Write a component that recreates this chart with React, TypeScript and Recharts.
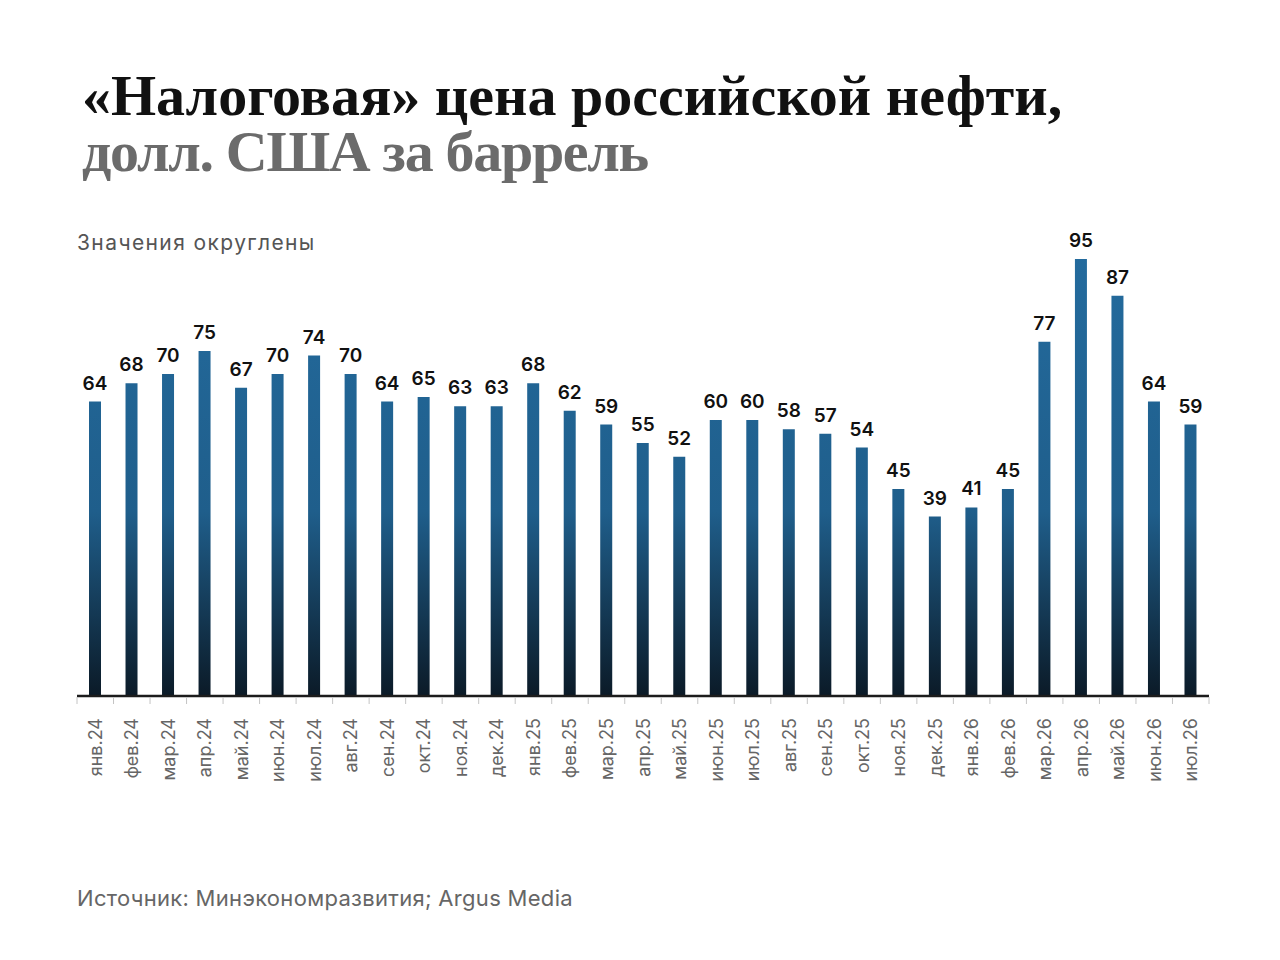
import React from 'react';
import { BarChart, Bar, XAxis, YAxis, LabelList } from 'recharts';

const months = [
  'янв.24', 'фев.24', 'мар.24', 'апр.24', 'май.24', 'июн.24', 'июл.24', 'авг.24',
  'сен.24', 'окт.24', 'ноя.24', 'дек.24', 'янв.25', 'фев.25', 'мар.25', 'апр.25',
  'май.25', 'июн.25', 'июл.25', 'авг.25', 'сен.25', 'окт.25', 'ноя.25', 'дек.25',
  'янв.26', 'фев.26', 'мар.26', 'апр.26', 'май.26', 'июн.26', 'июл.26',
];
const prices = [
  64, 68, 70, 75, 67, 70, 74, 70,
  64, 65, 63, 63, 68, 62, 59, 55,
  52, 60, 60, 58, 57, 54, 45, 39,
  41, 45, 77, 95, 87, 64, 59,
];

const data = months.map((m, i) => ({ month: m, value: prices[i] }));

const W = 1280;
const H = 960;
const M = { top: 236, right: 71, left: 77, bottom: 164 };
const XH = 100;
const STEP = (W - M.left - M.right) / data.length;

const sans = 'Inter, "Noto Sans", sans-serif';

const Tick = (props: any) => {
  const { x, y, payload, index } = props;
  const last = index === data.length - 1;
  return (
    <g>
      <line x1={x - STEP / 2} x2={x - STEP / 2} y1={y + 1} y2={y + 8} stroke="#c4c4c4" strokeWidth={1} />
      {last && (
        <line x1={x + STEP / 2} x2={x + STEP / 2} y1={y + 1} y2={y + 8} stroke="#c4c4c4" strokeWidth={1} />
      )}
      <text
        x={x}
        y={y + 22}
        transform={`rotate(-90, ${x}, ${y + 22})`}
        textAnchor="end"
        dominantBaseline="central"
        fontFamily={sans}
        fontSize={18}
        fill="#666"
      >
        {payload.value}
      </text>
    </g>
  );
};

const titleStyle: React.CSSProperties = {
  position: 'absolute',
  left: 82,
  fontFamily: '"Liberation Serif", serif',
  fontWeight: 700,
  fontSize: 58,
  lineHeight: '56px',
  height: 56,
  whiteSpace: 'nowrap',
};

export default function App() {
  return (
    <div style={{ position: 'absolute', left: 0, top: 0, width: W, height: H, background: '#fff', overflow: 'hidden' }}>
      <div style={{ ...titleStyle, top: 68, color: '#111' }}>«Налоговая» цена российской нефти,</div>
      <div style={{ ...titleStyle, top: 124, color: '#6b6b6b', letterSpacing: -1.3 }}>долл. США за баррель</div>
      <div
        style={{
          position: 'absolute',
          left: 77,
          top: 230,
          fontFamily: sans,
          fontSize: 21,
          letterSpacing: 1.4,
          color: '#555',
          whiteSpace: 'nowrap',
        }}
      >
        Значения округлены
      </div>
      <div
        style={{
          position: 'absolute',
          left: 77,
          top: 885,
          fontFamily: sans,
          fontSize: 22,
          letterSpacing: 0.3,
          color: '#666',
          whiteSpace: 'nowrap',
        }}
      >
        Источник: Минэкономразвития; Argus Media
      </div>
      <div style={{ position: 'absolute', left: 0, top: 0 }}>
        <BarChart width={W} height={H} data={data} margin={M}>
          <defs>
            <linearGradient id="barGrad" gradientUnits="userSpaceOnUse" x1={0} y1={M.top} x2={0} y2={H - M.bottom - XH}>
              <stop offset="0%" stopColor="#246c9f" />
              <stop offset="60%" stopColor="#1f5e8b" />
              <stop offset="100%" stopColor="#0b1a27" />
            </linearGradient>
          </defs>
          <YAxis hide domain={[0, 100]} />
          <XAxis
            dataKey="month"
            interval={0}
            height={XH}
            tickLine={false}
            tickSize={0}
            tickMargin={0}
            axisLine={{ stroke: '#1c1c1c', strokeWidth: 2.5 }}
            tick={<Tick />}
          />
          <Bar dataKey="value" fill="url(#barGrad)" barSize={12} isAnimationActive={false}>
            <LabelList
              dataKey="value"
              position="top"
              offset={12}
              fontFamily={sans}
              fontWeight={600}
              fontSize={19}
              fill="#111"
            />
          </Bar>
        </BarChart>
      </div>
    </div>
  );
}
